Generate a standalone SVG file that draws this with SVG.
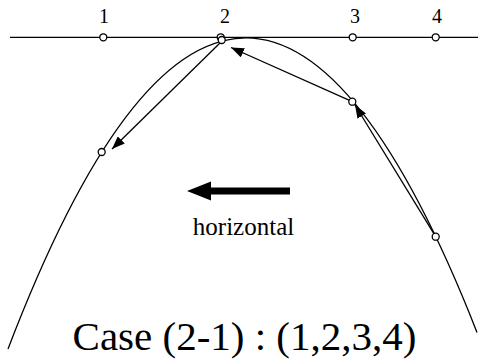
<svg xmlns="http://www.w3.org/2000/svg" width="478" height="363" viewBox="0 0 478 363">
  <style>
    .ln { stroke: #000; stroke-width: 1.3; fill: none; }
    .pt { fill: #fff; stroke: #000; stroke-width: 1.3; }
    .t { font-family: "Liberation Serif", "Times New Roman", serif; fill: #000; text-anchor: middle; }
  </style>
  <defs>
    <marker id="ah" markerUnits="userSpaceOnUse" markerWidth="14" markerHeight="10" refX="13" refY="5" orient="auto">
      <path d="M0,0 L13,5 L0,10 Z" fill="#000"/>
    </marker>
  </defs>
  <g id="axis">
    <line class="ln" x1="10" y1="37.3" x2="478" y2="37.3"/>
  </g>
  <g id="curve">
    <path class="ln" d="M8,348.9 Q242.5,-264.6 477,332.4"/>
  </g>
  <g id="connectors">
    <line class="ln" x1="222" y1="41" x2="112" y2="149" marker-end="url(#ah)"/>
    <line class="ln" x1="352.3" y1="101.7" x2="231" y2="47.5" marker-end="url(#ah)"/>
    <line class="ln" x1="435.7" y1="236.7" x2="355" y2="105" marker-end="url(#ah)"/>
  </g>
  <g id="axis-points">
    <circle class="pt" cx="103.3" cy="37.3" r="3.5"/>
    <circle class="pt" cx="220.7" cy="37.3" r="3.5"/>
    <circle class="pt" cx="352.7" cy="37.3" r="3.5"/>
    <circle class="pt" cx="435.7" cy="37.3" r="3.5"/>
  </g>
  <g id="curve-points">
    <circle class="pt" cx="221.7" cy="40" r="3.5"/>
    <circle class="pt" cx="101.7" cy="152" r="3.5"/>
    <circle class="pt" cx="352.3" cy="101.7" r="3.5"/>
    <circle class="pt" cx="435.7" cy="236.7" r="3.5"/>
  </g>
  <g id="labels">
    <text class="t" x="104" y="23" font-size="20">1</text>
    <text class="t" x="225" y="23" font-size="20">2</text>
    <text class="t" x="355" y="23" font-size="20">3</text>
    <text class="t" x="437" y="23" font-size="20">4</text>
  </g>
  <g id="horizontal-arrow">
    <rect x="209" y="187.5" width="81" height="7" fill="#000"/>
    <polygon points="187,191 211,181.5 211,200.5" fill="#000"/>
    <text class="t" x="243.5" y="235" font-size="25">horizontal</text>
  </g>
  <g id="caption">
    <text class="t" x="244.5" y="350" font-size="41">Case (2-1) : (1,2,3,4)</text>
  </g>
</svg>
